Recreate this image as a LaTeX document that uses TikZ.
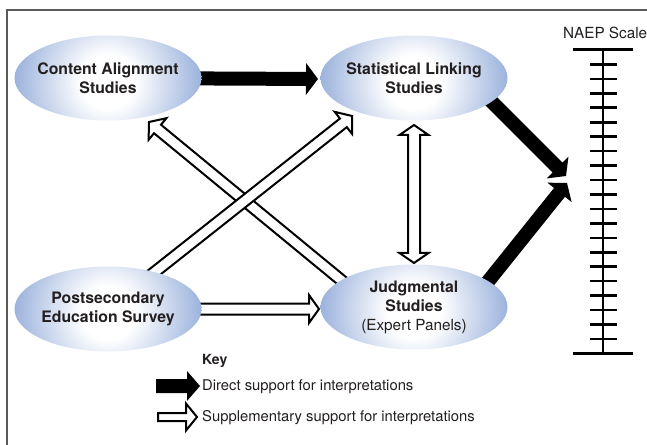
\documentclass[tikz,border=0pt]{standalone}
\usepackage{fontspec}
\setmainfont{TeX Gyre Heros}
\usetikzlibrary{shapes.geometric,calc}
\definecolor{ellblue}{RGB}{152,176,219}
\definecolor{framegray}{RGB}{90,90,90}
\definecolor{txtcol}{RGB}{35,31,32}
\pgfdeclareradialshading{ellshade}{\pgfpoint{0bp}{0bp}}{color(0bp)=(white); color(7bp)=(white); color(25bp)=(ellblue); color(50bp)=(ellblue)}
\pgfdeclarelayer{bg}
\pgfsetlayers{bg,main}
% single-headed broad arrow: style, from, to, shaft half-width, head half-width, head length
\newcommand{\oneheadarrow}[6]{%
  \coordinate (oh-s) at (#2);
  \coordinate (oh-t) at (#3);
  \coordinate (oh-h) at ($(oh-t)!#6!(oh-s)$);
  \path[#1] ($(oh-s)!#4!90:(oh-t)$) -- ($(oh-h)!#4!90:(oh-t)$) -- ($(oh-h)!#5!90:(oh-t)$) -- (oh-t)
    -- ($(oh-h)!#5!-90:(oh-t)$) -- ($(oh-h)!#4!-90:(oh-t)$) -- ($(oh-s)!#4!-90:(oh-t)$) -- cycle;
}
% double-headed broad arrow
\newcommand{\twoheadarrow}[6]{%
  \coordinate (th-a) at (#2);
  \coordinate (th-b) at (#3);
  \coordinate (th-ha) at ($(th-a)!#6!(th-b)$);
  \coordinate (th-hb) at ($(th-b)!#6!(th-a)$);
  \path[#1] (th-a) -- ($(th-ha)!#5!90:(th-b)$) -- ($(th-ha)!#4!90:(th-b)$) -- ($(th-hb)!#4!-90:(th-a)$)
    -- ($(th-hb)!#5!-90:(th-a)$) -- (th-b) -- ($(th-hb)!#5!90:(th-a)$) -- ($(th-hb)!#4!90:(th-a)$)
    -- ($(th-ha)!#4!-90:(th-b)$) -- ($(th-ha)!#5!-90:(th-b)$) -- cycle;
}
\tikzset{
  study/.style={ellipse, minimum width=187bp, minimum height=85bp, inner sep=0pt,
    path picture={\shade[shading=ellshade] ([yshift=-4bp]path picture bounding box.center) circle (96bp);}},
  studytext/.style={font=\fontsize{15.8bp}{18.5bp}\selectfont\bfseries, align=center, text=txtcol, inner sep=0pt},
  plaintext/.style={font=\fontsize{14.8bp}{18bp}\selectfont, text=txtcol, inner sep=0pt, anchor=base west},
  directarr/.style={fill=black},
  supparr/.style={draw=black, fill=white, line width=2bp, line join=miter},
  scaleline/.style={draw=black, line width=2.6bp}
}
\begin{document}
\begin{tikzpicture}[x=1bp, y=-1bp]
\useasboundingbox (0,0) rectangle (647,445);

% study nodes
\node[study, label={[studytext]center:Content Alignment\\Studies}] (ca) at (108,78) {};
\node[study, label={[studytext]center:Statistical Linking\\Studies}] (sl) at (414,78) {};
\node[study, label={[studytext]center:Postsecondary\\Education Survey}] (ps) at (108,309) {};
\node[study, label={[studytext, font=\fontsize{15.8bp}{19bp}\selectfont\bfseries]center:Judgmental\\Studies\\{\mdseries\fontsize{15.3bp}{19bp}\selectfont (Expert Panels)}}] (js) at (414,307) {};

% NAEP scale
\node[plaintext, font=\fontsize{15.3bp}{18bp}\selectfont] (naep) at (563,39) {NAEP Scale};
\draw[scaleline] (603,50) -- (603,353.5);
\draw[scaleline, line width=3bp] (573,50) -- (633,50);
\draw[scaleline, line width=3bp] (573,353.5) -- (633,353.5);
\foreach \k in {1,...,20}{
  \draw[scaleline] (590,{50+14.45*\k}) -- (617,{50+14.45*\k});
}

% free ends of connectors
\coordinate (tipcs) at (318,79);
\coordinate (tailsn) at (470,80);
\coordinate (tipsn) at (566,176);
\coordinate (tailjn) at (470,304);
\coordinate (tipjn) at (567,183);
\coordinate (tailjc) at (375,308);
\coordinate (tipjc) at (149,122);
\coordinate (tipps) at (352,116);
\coordinate (tippj) at (319,309);
\coordinate (vtop) at (414,125);
\coordinate (vbot) at (414,263);

\begin{pgfonlayer}{bg}
  \fill[white] (0,0) rectangle (647,445);
  \draw[framegray, line width=1.5bp] (7,446) -- (7,10) -- (648,10);
  \oneheadarrow{directarr}{ca.center}{tipcs}{7bp}{16bp}{12bp}
  \oneheadarrow{directarr}{tailsn}{tipsn}{7bp}{15.5bp}{12bp}
  \oneheadarrow{directarr}{tailjn}{tipjn}{7bp}{15.5bp}{12bp}
  \oneheadarrow{supparr}{tailjc}{tipjc}{5.5bp}{14bp}{11bp}
  \oneheadarrow{supparr}{ps.center}{tipps}{5.5bp}{14bp}{11bp}
  \oneheadarrow{supparr}{ps.center}{tippj}{5.5bp}{14bp}{10bp}
  \twoheadarrow{supparr}{vtop}{vbot}{6bp}{14.5bp}{10bp}
\end{pgfonlayer}

% key
\node[plaintext, font=\fontsize{14bp}{18bp}\selectfont\bfseries] (key) at (202,364) {Key};
\node[plaintext] (kdirect) at (202,390) {Direct support for interpretations};
\node[plaintext] (ksupp) at (202,421) {Supplementary support for interpretations};
\coordinate (kd0) at (156,386);
\coordinate (kd1) at (200,386);
\coordinate (ks0) at (158,417);
\coordinate (ks1) at (197,417);
\oneheadarrow{directarr}{kd0}{kd1}{7bp}{15bp}{13bp}
\oneheadarrow{supparr}{ks0}{ks1}{4bp}{13.5bp}{11bp}
\end{tikzpicture}
\end{document}
